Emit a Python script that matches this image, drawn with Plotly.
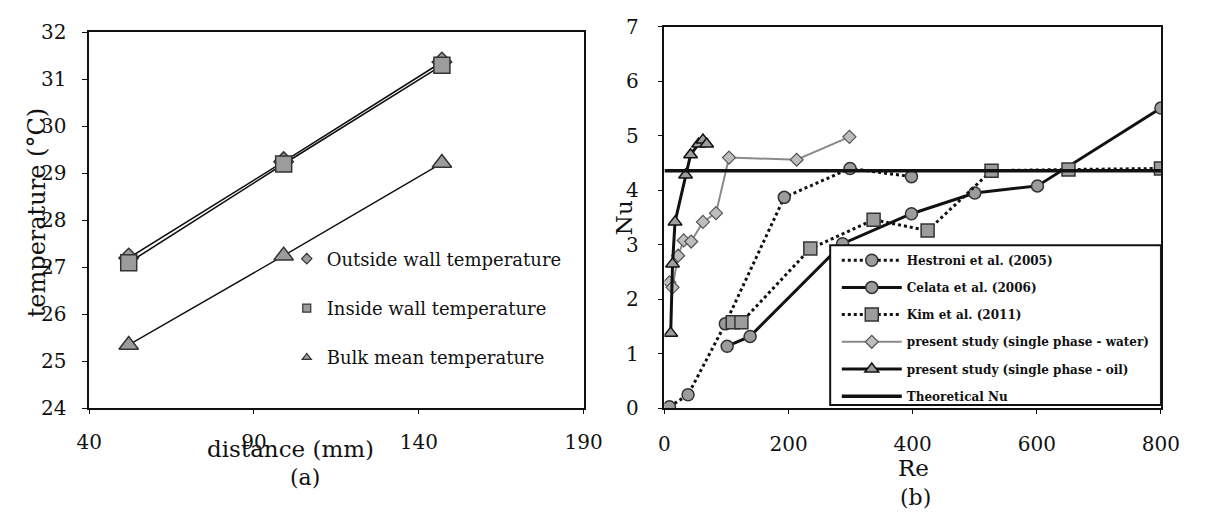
import plotly.graph_objects as go

# ---------------- data: panel (a) ----------------
distance_mm = [52, 99, 147]
outside_wall_T = [27.2, 29.25, 31.37]
inside_wall_T = [27.1, 29.2, 31.3]
bulk_mean_T = [25.35, 27.25, 29.22]

# ---------------- data: panel (b) ----------------
hestroni_re = [8, 38, 98, 193, 299, 398]
hestroni_nu = [0.03, 0.25, 1.55, 3.87, 4.40, 4.25]
celata_re = [101, 138, 287, 398, 500, 601, 800]
celata_nu = [1.14, 1.32, 3.02, 3.57, 3.95, 4.08, 5.51]
kim_re = [110, 124, 235, 337, 424, 527, 651, 800]
kim_nu = [1.58, 1.58, 2.93, 3.46, 3.26, 4.36, 4.38, 4.40]
water_re = [8, 13, 22, 31, 43, 62, 83, 104, 213, 298]
water_nu = [2.31, 2.22, 2.80, 3.08, 3.06, 3.42, 3.58, 4.60, 4.56, 4.98]
oil_re = [10, 13, 17, 34, 42, 55, 62, 68]
oil_nu = [1.38, 2.65, 3.42, 4.28, 4.65, 4.85, 4.92, 4.85]
theo_re = [0, 800]
theo_nu = [4.36, 4.36]

left_xticks = [40, 90, 140, 190]
left_yticks = [24, 25, 26, 27, 28, 29, 30, 31, 32]
right_xticks = [0, 200, 400, 600, 800]
right_yticks = [0, 1, 2, 3, 4, 5, 6, 7]

W, H = 1207, 525
OFF = 8  # page body margin
FONT = "DejaVu Serif"
GRAY = "#9c9c9c"
DARK = "#333333"
INK = "#111111"


def PX(sx):
    return (sx - OFF) / W


def PY(sy):
    return 1 - (sy - OFF) / H


# plot areas in screen pixels
LX0, LX1, LY0, LY1 = 78, 586, 21, 415
RX0, RX1, RY0, RY1 = 669, 1179, 15, 415

fig = go.Figure()

# ---- panel (a) traces ----
fig.add_trace(go.Scatter(
    x=distance_mm, y=outside_wall_T, mode="lines+markers",
    line=dict(color=INK, width=1.6),
    marker=dict(symbol="diamond", size=15, color=GRAY, line=dict(color=DARK, width=1.5)),
    xaxis="x", yaxis="y", showlegend=False))
fig.add_trace(go.Scatter(
    x=distance_mm, y=inside_wall_T, mode="lines+markers",
    line=dict(color=INK, width=1.6),
    marker=dict(symbol="square", size=16, color=GRAY, line=dict(color=DARK, width=1.5)),
    xaxis="x", yaxis="y", showlegend=False))
fig.add_trace(go.Scatter(
    x=distance_mm, y=bulk_mean_T, mode="lines+markers",
    line=dict(color=INK, width=1.4),
    marker=dict(symbol="triangle-up", size=17, color=GRAY, line=dict(color=DARK, width=1.5)),
    xaxis="x", yaxis="y", showlegend=False))

# legend entries for panel (a) (marker only)
for name, sym in [("Outside wall temperature", "diamond"),
                  ("Inside wall temperature", "square"),
                  ("Bulk mean temperature", "triangle-up")]:
    fig.add_trace(go.Scatter(
        x=[None], y=[None], mode="markers", name=name,
        marker=dict(symbol=sym, size=8, color=GRAY, line=dict(color=DARK, width=1.2)),
        xaxis="x", yaxis="y", legend="legend2", legendgroup=name))

# ---- panel (b) traces ----
fig.add_trace(go.Scatter(
    x=hestroni_re, y=hestroni_nu, mode="lines+markers", name="Hestroni et al. (2005)",
    line=dict(color=INK, width=3, dash="dot"),
    marker=dict(symbol="circle", size=12, color=GRAY, line=dict(color=DARK, width=1.5)),
    xaxis="x2", yaxis="y2", legendgroup="g1"))
fig.add_trace(go.Scatter(
    x=celata_re, y=celata_nu, mode="lines+markers", name="Celata et al. (2006)",
    line=dict(color=INK, width=3),
    marker=dict(symbol="circle", size=12, color=GRAY, line=dict(color=DARK, width=1.5)),
    xaxis="x2", yaxis="y2", legendgroup="g2"))
fig.add_trace(go.Scatter(
    x=kim_re, y=kim_nu, mode="lines+markers", name="Kim et al. (2011)",
    line=dict(color=INK, width=3, dash="dot"),
    marker=dict(symbol="square", size=13, color=GRAY, line=dict(color=DARK, width=1.5)),
    xaxis="x2", yaxis="y2", legendgroup="g3"))
fig.add_trace(go.Scatter(
    x=water_re, y=water_nu, mode="lines+markers", name="present study (single phase - water)",
    line=dict(color="#8a8a8a", width=2),
    marker=dict(symbol="diamond", size=10, color="#bdbdbd", line=dict(color="#555555", width=1.2)),
    xaxis="x2", yaxis="y2", legendgroup="g4"))
fig.add_trace(go.Scatter(
    x=oil_re, y=oil_nu, mode="lines+markers", name="present study (single phase - oil)",
    line=dict(color=INK, width=3),
    marker=dict(symbol="triangle-up", size=12, color=GRAY, line=dict(color=INK, width=1.5)),
    xaxis="x2", yaxis="y2", legendgroup="g5"))
fig.add_trace(go.Scatter(
    x=theo_re, y=theo_nu, mode="lines", name="Theoretical Nu",
    line=dict(color=INK, width=3.5),
    xaxis="x2", yaxis="y2", legendgroup="g6"))

axis_common = dict(
    showgrid=False, zeroline=False, showline=True, linecolor=INK, linewidth=1.5,
    mirror=True, ticks="outside", tickcolor=INK,
    tickfont=dict(family=FONT, size=20, color=INK),
)

title_font = dict(family=FONT, size=23, color=INK)

fig.update_layout(
    width=W, height=H,
    margin=dict(l=0, r=0, t=0, b=0),
    paper_bgcolor="white", plot_bgcolor="white",
    xaxis=dict(domain=[PX(LX0), PX(LX1)], range=[40, 190], tickvals=left_xticks,
               anchor="y", ticklen=4, ticklabelstandoff=11, **axis_common),
    yaxis=dict(domain=[PY(LY1), PY(LY0)], range=[24, 32], tickvals=left_yticks,
               anchor="x", ticklen=5, ticklabelstandoff=12, **axis_common),
    xaxis2=dict(domain=[PX(RX0), PX(RX1)], range=[0, 800], tickvals=right_xticks,
                anchor="y2", ticklen=4, ticklabelstandoff=13, **axis_common),
    yaxis2=dict(domain=[PY(RY1), PY(RY0)], range=[0, 7], tickvals=right_yticks,
                anchor="x2", ticklen=5, ticklabelstandoff=15, **axis_common),
    legend=dict(x=PX(846), y=PY(244.5), xanchor="left", yanchor="top",
                bgcolor="rgba(0,0,0,0)", borderwidth=0,
                font=dict(family=FONT, size=12, color=INK, weight="bold"),
                tracegroupgap=8.2, itemwidth=60),
    legend2=dict(x=PX(281), y=PY(239), xanchor="left", yanchor="top",
                 bgcolor="rgba(0,0,0,0)", borderwidth=0,
                 font=dict(family=FONT, size=18, color=INK),
                 tracegroupgap=23, itemwidth=30),
    shapes=[dict(type="rect", xref="x2", yref="y2",
                 x0=267, x1=800, y0=0.06, y1=2.99,
                 line=dict(color=INK, width=2), fillcolor="white", layer="above")],
    annotations=[
        dict(text="temperature (°C)", x=PX(24), y=PY(210), xref="paper", yref="paper",
             xanchor="center", yanchor="middle",
             textangle=-90, showarrow=False, font=dict(family=FONT, size=24, color=INK)),
        dict(text="distance (mm)", x=PX(285), y=PY(458), xref="paper", yref="paper",
             xanchor="center", yanchor="middle", showarrow=False, font=title_font),
        dict(text="(a)", x=PX(300), y=PY(487), xref="paper", yref="paper",
             xanchor="center", yanchor="middle", showarrow=False,
             font=dict(family=FONT, size=22, color=INK)),
        dict(text="Nu", x=PX(627), y=PY(215), xref="paper", yref="paper",
             xanchor="center", yanchor="middle",
             textangle=-90, showarrow=False, font=title_font),
        dict(text="Re", x=PX(925), y=PY(477), xref="paper", yref="paper",
             xanchor="center", yanchor="middle", showarrow=False, font=title_font),
        dict(text="(b)", x=PX(927), y=PY(508), xref="paper", yref="paper",
             xanchor="center", yanchor="middle", showarrow=False,
             font=dict(family=FONT, size=22, color=INK)),
    ],
)

fig.write_html("out.html")
